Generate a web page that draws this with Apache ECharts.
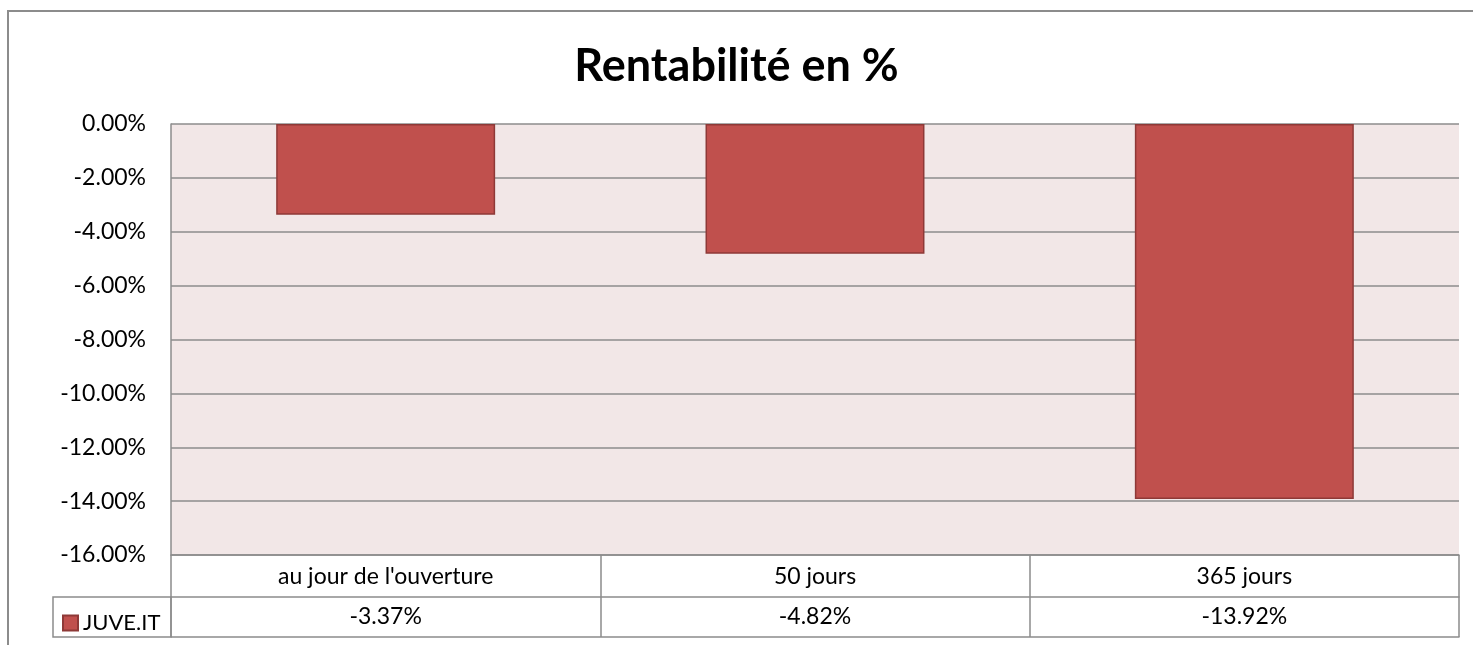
<!DOCTYPE html>
<html>
<head>
<meta charset="utf-8">
<script src="https://cdn.jsdelivr.net/npm/echarts@6/dist/echarts.min.js"></script>
<style>
  html, body { margin: 0; padding: 0; background: #fff; }
  #main { width: 1473px; height: 645px; }
</style>
</head>
<body>
<div id="main"></div>
<script>
// données
var categories = ["au jour de l'ouverture", "50 jours", "365 jours"];
var serieName = "JUVE.IT";
var rendements = [-3.37, -4.82, -13.92];
var yMin = -16, yMax = 0, yPas = 2;

var police = "Lato, 'Open Sans', sans-serif";
var gris = "#8c8c8c";
var taille = 23;

var myChart = echarts.init(document.getElementById("main"));

var option = {
  animation: false,
  backgroundColor: "#fff",
  title: {
    text: "Rentabilité en %",
    left: "center",
    top: 39,
    textStyle: { fontFamily: police, fontSize: 45, fontWeight: "bold", color: "#000" }
  },
  legend: {
    left: 57,
    top: 607,
    itemWidth: 15,
    itemHeight: 15,
    itemGap: 6,
    icon: "rect",
    textStyle: { fontFamily: police, fontSize: 22, color: "#000", padding: [0, 0, 0, 0] },
    data: [serieName]
  },
  grid: {
    left: 171,
    right: 14,
    top: 124,
    bottom: 90,
    show: true,
    backgroundColor: "#f2e7e7",
    borderWidth: 0
  },
  xAxis: [
    {
      // ligne 1 : catégories
      type: "category",
      data: categories,
      position: "bottom",
      axisLine: { show: true, onZero: false, lineStyle: { color: gris, width: 1.5 } },
      axisTick: { show: true, length: 82, lineStyle: { color: gris, width: 1.5 } },
      axisLabel: { fontFamily: police, fontSize: taille, color: "#000", margin: 10 },
      splitLine: { show: false }
    },
    {
      // ligne 2 : valeurs
      type: "category",
      data: rendements.map(function (v) { return v.toFixed(2) + "%"; }),
      position: "bottom",
      offset: 42,
      axisLine: { show: true, onZero: false, lineStyle: { color: gris, width: 1.5 } },
      axisTick: { show: false },
      axisLabel: { fontFamily: police, fontSize: taille, color: "#000", margin: 8 }
    },
    {
      type: "category",
      data: categories,
      position: "bottom",
      offset: 82,
      axisLine: { show: true, onZero: false, lineStyle: { color: gris, width: 1.5 } },
      axisTick: { show: false },
      axisLabel: { show: false }
    }
  ],
  yAxis: {
    type: "value",
    min: yMin,
    max: yMax,
    interval: yPas,
    axisLine: { show: true, lineStyle: { color: gris, width: 1.5 } },
    axisTick: { show: false },
    axisLabel: {
      fontFamily: police,
      fontSize: taille,
      color: "#000",
      margin: 25,
      formatter: function (v) { return (v === 0 ? 0 : v).toFixed(2) + "%"; }
    },
    splitLine: { show: true, lineStyle: { color: gris, width: 1.5 } }
  },
  series: [
    {
      name: serieName,
      type: "bar",
      xAxisIndex: 0,
      barWidth: "51%",
      data: rendements,
      itemStyle: { color: "#c0504d", borderColor: "#8e3937", borderWidth: 1.5 }
    }
  ],
  graphic: [
    {
      type: "rect",
      shape: { x: 8, y: 11, width: 1500, height: 700 },
      style: { fill: null, stroke: "#8c8c8c", lineWidth: 2 },
      silent: true
    },
    {
      // case de légende
      type: "rect",
      shape: { x: 53, y: 597, width: 118, height: 40 },
      style: { fill: null, stroke: gris, lineWidth: 1.5 },
      silent: true
    }
  ]
};

myChart.setOption(option);
</script>
</body>
</html>
